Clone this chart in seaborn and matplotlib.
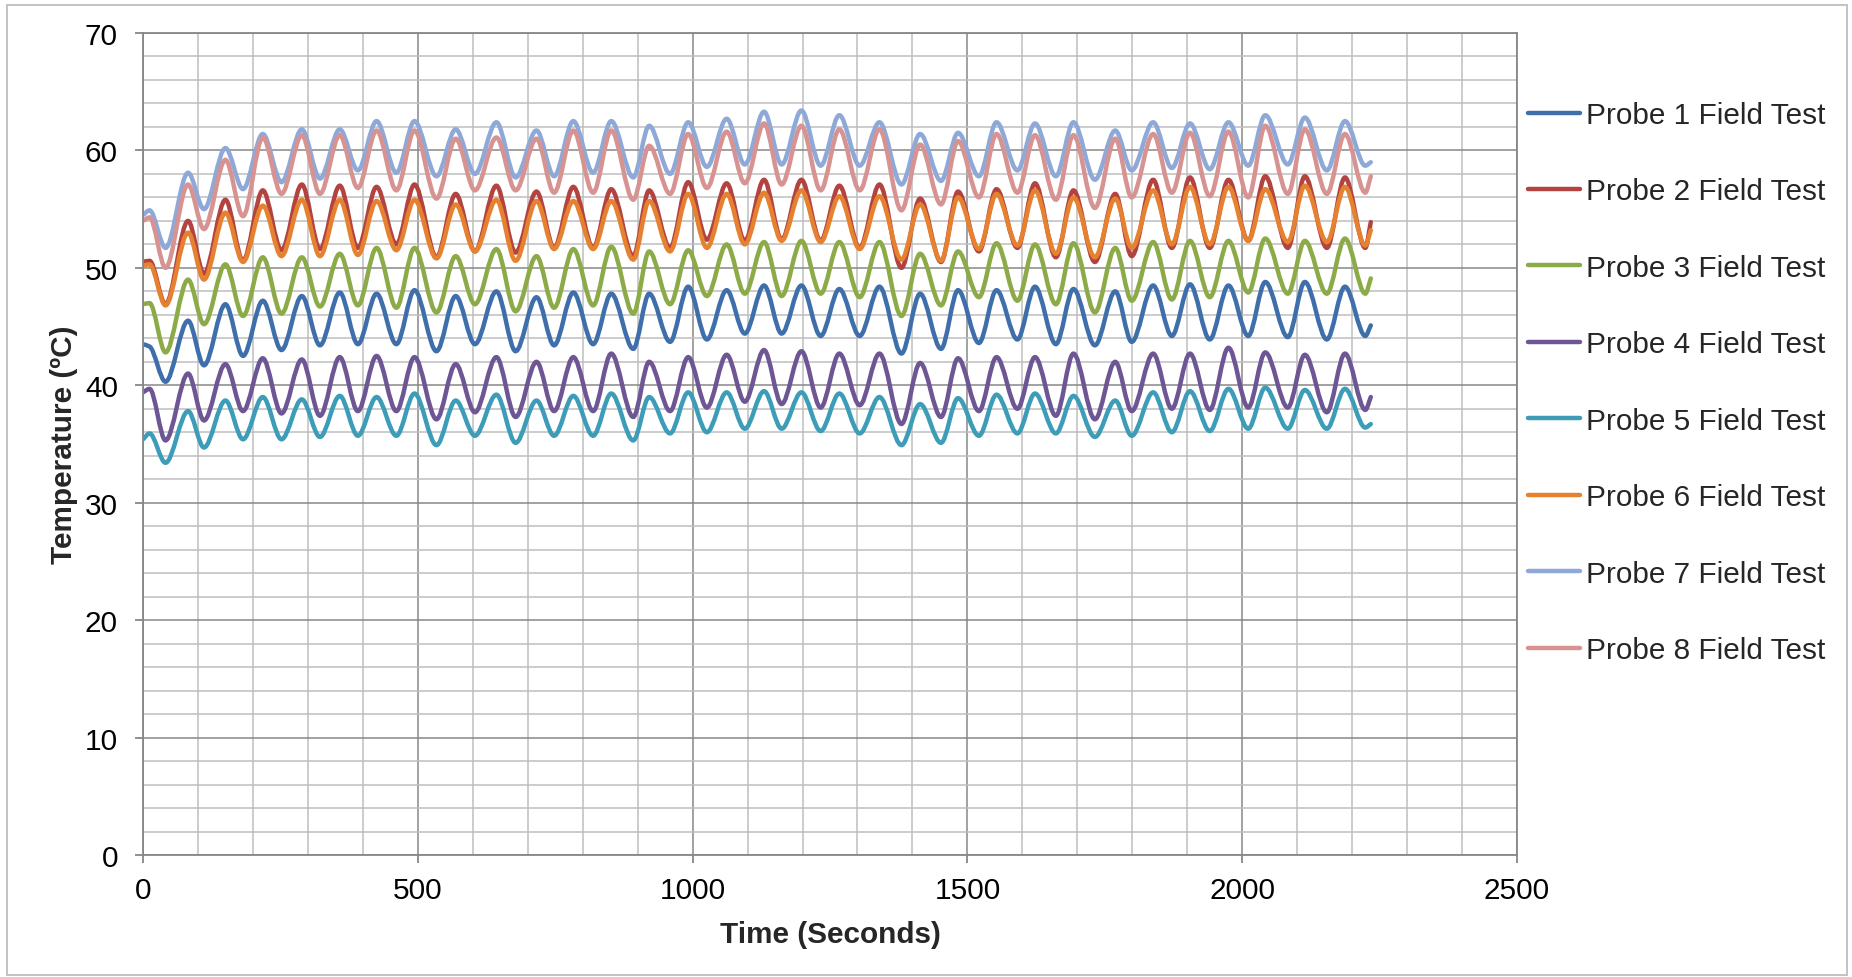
import numpy as np
import pandas as pd
import matplotlib
matplotlib.use("Agg")
import matplotlib.pyplot as plt
import seaborn as sns
from matplotlib.path import Path
from matplotlib.patheffects import AbstractPathEffect
from matplotlib.patches import Rectangle
from matplotlib.ticker import MultipleLocator
from matplotlib.transforms import IdentityTransform

# Sample times (s): start, then alternating peaks / troughs of each cycle, end
time_s = [
    0, 12, 41, 82, 111, 150, 182, 218, 252, 289,
    322, 358, 391, 425, 461, 494, 534, 569, 604, 643,
    678, 716, 748, 783, 819, 852, 892, 921, 959, 992,
    1026, 1062, 1095, 1130, 1162, 1198, 1233, 1267, 1304, 1340,
    1380, 1414, 1452, 1483, 1521, 1553, 1591, 1623, 1661, 1693,
    1732, 1769, 1799, 1838, 1872, 1905, 1941, 1975, 2011, 2042,
    2083, 2114, 2154, 2187, 2224, 2234,
]

probe_1 = [
    43.5, 43.3, 40.3, 45.5, 41.7, 46.9, 42.5, 47.2, 43.0, 47.6,
    43.4, 47.9, 43.5, 47.8, 43.5, 48.1, 42.9, 47.6, 43.5, 48.0,
    42.9, 47.5, 43.4, 47.9, 43.5, 47.8, 43.1, 47.8, 43.7, 48.4,
    43.9, 48.1, 44.4, 48.5, 44.4, 48.5, 44.2, 48.2, 44.2, 48.4,
    42.7, 47.8, 43.1, 48.1, 43.6, 48.1, 43.9, 48.4, 43.5, 48.2,
    43.4, 48.0, 43.7, 48.5, 44.2, 48.6, 43.9, 48.5, 44.2, 48.8,
    44.1, 48.8, 43.9, 48.4, 44.2, 45.1,
]
probe_2 = [
    50.5, 50.6, 46.9, 54.0, 49.5, 55.8, 50.6, 56.6, 51.5, 57.1,
    51.6, 57.0, 51.7, 56.9, 52.0, 57.1, 50.9, 56.3, 51.4, 57.0,
    51.3, 56.5, 51.7, 56.9, 51.7, 56.7, 51.0, 56.6, 51.7, 57.3,
    52.4, 57.2, 52.3, 57.5, 52.4, 57.5, 52.3, 57.0, 51.7, 57.1,
    50.0, 55.9, 50.5, 56.5, 51.4, 56.7, 51.7, 57.2, 50.9, 56.6,
    50.5, 56.3, 51.0, 57.5, 51.7, 57.7, 51.7, 57.5, 52.3, 57.8,
    51.7, 57.8, 51.7, 57.7, 51.7, 53.9,
]
probe_3 = [
    46.9, 47.0, 42.8, 49.0, 45.2, 50.3, 45.9, 50.9, 46.1, 50.9,
    46.7, 51.2, 46.8, 51.7, 46.6, 51.7, 46.2, 51.0, 46.9, 51.6,
    46.3, 51.0, 46.6, 51.6, 46.8, 51.8, 46.1, 51.4, 46.9, 51.5,
    47.6, 52.0, 47.8, 52.2, 47.6, 52.3, 47.8, 52.2, 47.5, 52.2,
    45.9, 51.2, 46.8, 51.4, 47.5, 52.1, 47.2, 52.0, 46.9, 52.1,
    46.2, 51.7, 47.2, 52.2, 47.3, 52.3, 47.5, 52.3, 47.9, 52.5,
    47.8, 52.3, 47.8, 52.5, 47.8, 49.1,
]
probe_4 = [
    39.4, 39.7, 35.3, 41.0, 37.0, 41.8, 37.8, 42.3, 37.6, 42.2,
    37.4, 42.4, 37.8, 42.5, 37.8, 42.4, 37.1, 41.8, 37.7, 42.4,
    37.3, 42.0, 37.8, 42.4, 37.8, 42.7, 37.3, 42.0, 37.8, 42.4,
    38.1, 42.6, 38.6, 43.0, 38.4, 42.9, 38.1, 42.7, 38.3, 42.7,
    36.7, 41.9, 37.3, 42.3, 37.8, 42.4, 38.0, 42.4, 37.4, 42.7,
    37.1, 42.0, 37.8, 42.7, 38.0, 42.7, 37.9, 43.2, 38.1, 42.8,
    38.1, 42.6, 37.7, 42.7, 37.9, 39.0,
]
probe_5 = [
    35.4, 35.9, 33.4, 37.8, 34.7, 38.7, 35.4, 39.0, 35.4, 38.8,
    35.6, 39.1, 35.7, 39.0, 35.7, 39.3, 34.9, 38.7, 35.7, 39.2,
    35.1, 38.7, 35.7, 39.1, 35.7, 39.3, 35.3, 39.0, 35.9, 39.4,
    36.0, 39.4, 36.3, 39.5, 36.3, 39.4, 36.1, 39.3, 35.9, 39.0,
    34.9, 38.4, 35.1, 38.9, 35.7, 39.2, 35.9, 39.3, 35.9, 39.1,
    35.6, 38.7, 35.7, 39.4, 36.0, 39.5, 36.1, 39.7, 36.3, 39.8,
    36.3, 39.6, 36.3, 39.7, 36.4, 36.7,
]
probe_6 = [
    50.2, 50.3, 46.8, 53.0, 49.0, 54.7, 50.5, 55.3, 51.0, 55.8,
    51.0, 55.8, 51.1, 55.7, 51.5, 55.8, 50.8, 55.4, 51.4, 55.8,
    50.6, 55.7, 51.6, 55.7, 51.6, 55.7, 50.7, 55.7, 51.4, 56.3,
    51.7, 56.3, 52.0, 56.4, 52.3, 56.6, 52.2, 56.1, 51.6, 56.1,
    50.7, 55.4, 50.6, 56.0, 51.6, 56.3, 51.9, 56.6, 51.2, 56.0,
    50.9, 55.9, 51.7, 56.6, 52.0, 56.9, 52.0, 56.9, 52.3, 56.7,
    52.2, 57.0, 52.2, 56.9, 51.9, 53.2,
]
probe_7 = [
    54.5, 54.9, 51.7, 58.1, 55.0, 60.2, 56.7, 61.4, 57.3, 61.8,
    57.6, 61.8, 58.3, 62.5, 58.1, 62.5, 57.8, 61.8, 58.0, 62.4,
    57.7, 61.7, 57.8, 62.5, 58.1, 62.5, 57.7, 62.1, 58.0, 62.4,
    58.6, 62.7, 58.8, 63.3, 58.8, 63.4, 58.7, 63.0, 58.7, 62.4,
    57.1, 61.4, 57.4, 61.5, 57.8, 62.4, 58.3, 62.3, 57.8, 62.4,
    57.5, 61.7, 58.3, 62.4, 58.5, 62.3, 58.4, 62.4, 58.7, 63.0,
    58.8, 62.8, 58.3, 62.5, 58.7, 59.0,
]
probe_8 = [
    54.0, 54.3, 50.0, 57.1, 53.3, 59.2, 54.4, 61.1, 56.3, 61.3,
    56.3, 61.3, 56.8, 61.7, 56.6, 61.7, 55.9, 61.0, 56.6, 61.1,
    56.6, 61.0, 56.4, 61.7, 56.4, 61.7, 55.8, 60.4, 56.3, 61.4,
    56.8, 61.6, 57.2, 62.3, 57.1, 62.1, 56.6, 61.8, 56.6, 61.8,
    54.9, 60.5, 55.4, 60.8, 56.0, 61.4, 56.4, 61.3, 55.8, 61.3,
    55.1, 61.0, 56.0, 61.4, 56.4, 61.5, 56.1, 61.6, 56.0, 62.1,
    56.3, 61.8, 56.3, 61.4, 56.4, 57.8,
]

probe_labels = [f"Probe {i} Field Test" for i in range(1, 9)]
probe_values = [probe_1, probe_2, probe_3, probe_4,
                probe_5, probe_6, probe_7, probe_8]
probe_colors = ["#3F6FAA", "#B24340", "#8CAB48", "#6E5594",
                "#3D9CB7", "#E5812F", "#8EA9D8", "#D69391"]


class SmoothedLine(AbstractPathEffect):
    """Render a polyline as a shape-preserving cubic (smoothed line style)."""

    def draw_path(self, renderer, gc, tpath, affine, rgbFace=None):
        xy = affine.transform(tpath.vertices)
        n = len(xy)
        if n < 3:
            renderer.draw_path(gc, tpath, affine, rgbFace)
            return
        x, y = xy[:, 0], xy[:, 1]
        h = np.diff(x)
        d = np.diff(y) / h
        m = np.zeros(n)
        for k in range(1, n - 1):
            if d[k - 1] * d[k] > 0:
                w1 = 2 * h[k] + h[k - 1]
                w2 = h[k] + 2 * h[k - 1]
                m[k] = (w1 + w2) / (w1 / d[k - 1] + w2 / d[k])
        m[0], m[-1] = d[0], d[-1]
        verts = [xy[0]]
        codes = [Path.MOVETO]
        for k in range(n - 1):
            verts.append((x[k] + h[k] / 3, y[k] + m[k] * h[k] / 3))
            verts.append((x[k + 1] - h[k] / 3, y[k + 1] - m[k + 1] * h[k] / 3))
            verts.append(xy[k + 1])
            codes += [Path.CURVE4] * 3
        renderer.draw_path(gc, Path(verts, codes), IdentityTransform(), rgbFace)


df = pd.concat(
    [pd.DataFrame({"Time": time_s, "Temperature": vals, "Probe": name})
     for name, vals in zip(probe_labels, probe_values)],
    ignore_index=True,
)

sns.set_theme(style="white")
plt.rcParams["font.family"] = ["Liberation Sans", "DejaVu Sans"]

FS = 21.4
W, H = 1852, 978
fig = plt.figure(figsize=(W / 100, H / 100), dpi=100)
ax = fig.add_axes([143 / W, 1 - 856 / H, (1517 - 143) / W, (856 - 34) / H])

sns.lineplot(data=df, x="Time", y="Temperature", hue="Probe",
             hue_order=probe_labels, palette=probe_colors,
             estimator=None, linewidth=3.2, ax=ax)
for line in ax.get_lines():
    line.set_path_effects([SmoothedLine()])
    line.set_solid_joinstyle("round")

major_c, minor_c = "#878787", "#BEBEBE"
ax.set_xlim(0, 2500)
ax.set_ylim(0, 70)
ax.xaxis.set_major_locator(MultipleLocator(500))
ax.xaxis.set_minor_locator(MultipleLocator(100))
ax.yaxis.set_major_locator(MultipleLocator(10))
ax.yaxis.set_minor_locator(MultipleLocator(2))
ax.grid(which="minor", color=minor_c, linewidth=1.1)
ax.grid(which="major", color=major_c, linewidth=1.1)
ax.set_axisbelow(True)
for sp in ax.spines.values():
    sp.set_color(major_c)
    sp.set_linewidth(1.3)

ax.tick_params(which="major", bottom=True, left=True, length=6, width=1.3,
               color=major_c, direction="out", labelsize=FS, labelcolor="black")
ax.tick_params(axis="x", which="major", pad=9)
ax.tick_params(axis="y", which="major", pad=12)
ax.tick_params(which="minor", length=0)

ax.set_xlabel("Time (Seconds)", fontsize=FS, fontweight="bold", labelpad=11.5)
ax.set_ylabel("Temperature (ºC)", fontsize=FS, fontweight="bold", labelpad=5.2)

leg = ax.get_legend()
handles = leg.legend_handles
labels = [t.get_text() for t in leg.get_texts()]
leg.remove()
for hd in handles:
    hd.set_linewidth(3.2)
ax.legend(handles, labels, loc="upper left",
          bbox_to_anchor=(1528 / W, 1 - 102 / H), bbox_transform=fig.transFigure,
          frameon=False, fontsize=FS, handlelength=1.75, handletextpad=0.2,
          labelspacing=1.63, borderpad=0, borderaxespad=0)

# Chart-area border
fig.patches.append(Rectangle((7 / W, 2 / H), (W - 12) / W, (H - 8) / H,
                             transform=fig.transFigure, fill=False,
                             edgecolor="#BEBEBE", linewidth=1.3))

fig.savefig("out.png", dpi=100)
